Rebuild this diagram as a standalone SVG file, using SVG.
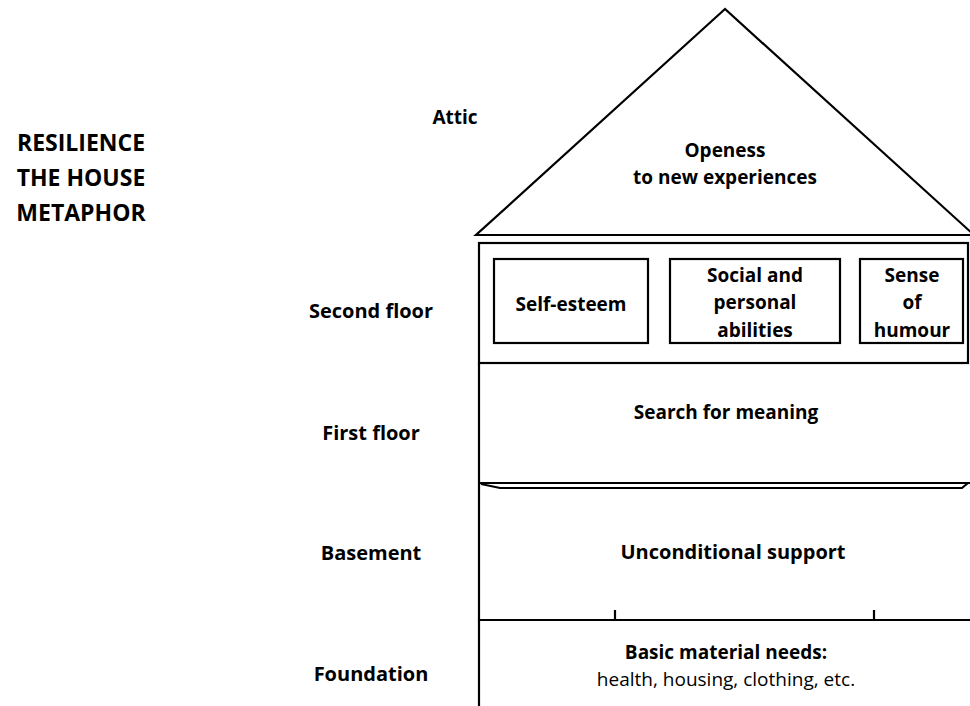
<svg xmlns="http://www.w3.org/2000/svg" width="970" height="706" viewBox="0 0 970 706">
<style>
.ln{fill:none;stroke:#000;stroke-width:2.2}
.bx{fill:#fff;stroke:#000;stroke-width:2.2}
.t{font-family:"Open Sans","Noto Sans",sans-serif;font-weight:700;font-size:19px;fill:#000;text-anchor:middle}
.r{font-weight:400}
.h{font-size:23px}
.m{font-size:20px}
</style>
<rect width="970" height="706" fill="#fff"/>
<g id="title">
<text class="t h" x="81" y="151">RESILIENCE</text>
<text class="t h" x="81" y="186">THE HOUSE</text>
<text class="t h" x="81" y="221">METAPHOR</text>
</g>
<g id="labels">
<text class="t" x="455" y="124">Attic</text>
<text class="t m" x="371" y="318">Second floor</text>
<text class="t m" x="371" y="440">First floor</text>
<text class="t m" x="371" y="560">Basement</text>
<text class="t m" x="371" y="681">Foundation</text>
</g>
<g id="attic">
<polygon class="ln" points="725,9 476,235 974,235"/>
<text class="t" x="725" y="157">Openess</text>
<text class="t" x="725" y="184">to new experiences</text>
</g>
<g id="second-floor">
<rect class="ln" x="479" y="243" width="489" height="120"/>
<g id="self-esteem">
<rect class="bx" x="494" y="259" width="154" height="84"/>
<text class="t" x="571" y="311">Self-esteem</text>
</g>
<g id="social">
<rect class="bx" x="670" y="259" width="170" height="84"/>
<text class="t" x="755" y="282">Social and</text>
<text class="t" x="755" y="309">personal</text>
<text class="t" x="755" y="337">abilities</text>
</g>
<g id="humour">
<rect class="bx" x="860" y="259" width="103" height="84"/>
<text class="t" x="912" y="282">Sense</text>
<text class="t" x="912" y="309">of</text>
<text class="t" x="912" y="337">humour</text>
</g>
</g>
<g id="first-floor">
<path class="ln" d="M479,363 V483"/>
<text class="t" x="726" y="419">Search for meaning</text>
<path class="ln" d="M479,483 H970 M481,484 L500,488 H962 L968,483"/>
</g>
<g id="basement">
<path class="ln" d="M479,483 V620 H970 M615,620 V610 M874,620 V610"/>
<text class="t m" x="733" y="559">Unconditional support</text>
</g>
<g id="foundation">
<path class="ln" d="M479,620 V706"/>
<text class="t" x="726" y="659">Basic material needs:</text>
<text class="t r" x="726" y="686">health, housing, clothing, etc.</text>
</g>
</svg>
